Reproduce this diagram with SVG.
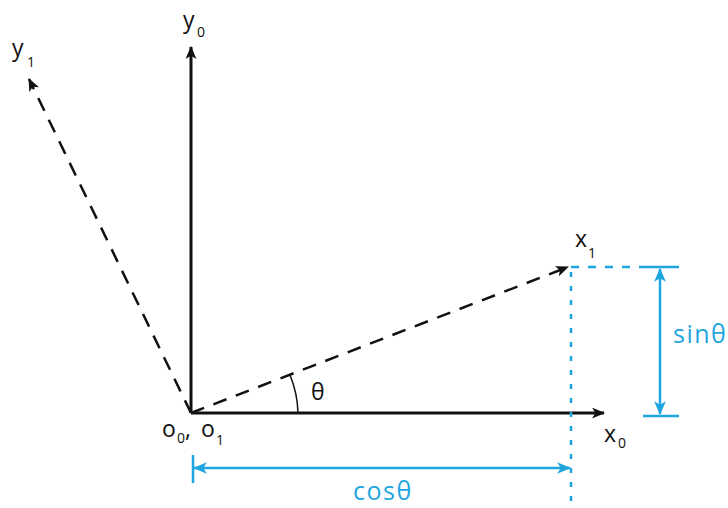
<svg xmlns="http://www.w3.org/2000/svg" width="728" height="508" viewBox="0 0 728 508">
<defs>
<marker id="ah" viewBox="0 0 12 10" refX="11" refY="5" markerWidth="13" markerHeight="11" markerUnits="userSpaceOnUse" orient="auto">
<path d="M0,0 L12,5 L0,10 L3,5 Z" fill="#111"/>
</marker>
<marker id="ab" viewBox="0 0 12 10" refX="11" refY="5" markerWidth="14" markerHeight="12" markerUnits="userSpaceOnUse" orient="auto-start-reverse">
<path d="M0,0 L12,5 L0,10 L3,5 Z" fill="#1fa6df"/>
</marker>
</defs>
<style>
.ax{stroke:#111;stroke-width:3;fill:none}
.da{stroke:#111;stroke-width:2.5;fill:none;stroke-dasharray:14 10}
.bl{stroke:#1fa6df;stroke-width:2.5;fill:none}
.t{font-family:"Open Sans","Liberation Sans",sans-serif;fill:#111;font-size:23px}
.s{font-family:"Open Sans","Liberation Sans",sans-serif;fill:#111;font-size:14px}
.tb{font-family:"Open Sans","Liberation Sans",sans-serif;fill:#1fa6df;font-size:25px;letter-spacing:1.5px}
</style>
<rect width="728" height="508" fill="#fff"/>
<g id="connectors">
<line id="y0-axis" class="ax" x1="191" y1="413" x2="191" y2="47" marker-end="url(#ah)"/>
<line id="x0-axis" class="ax" x1="191" y1="413" x2="604" y2="413" marker-end="url(#ah)"/>
<line id="y1-axis" class="da" x1="191" y1="413" x2="29" y2="79" marker-end="url(#ah)"/>
<line id="x1-axis" class="da" x1="191" y1="413" x2="568" y2="267" marker-end="url(#ah)"/>
<path id="angle-arc" d="M298,413 A107,107 0 0 0 290,375" stroke="#111" stroke-width="1.5" fill="none"/>
<line class="bl" x1="571" y1="272" x2="571" y2="508" stroke-dasharray="5 9"/>
<line class="bl" x1="571" y1="267" x2="643" y2="267" stroke-dasharray="8 9"/>
<line class="bl" x1="643" y1="267" x2="679" y2="267"/>
<line class="bl" x1="643" y1="416" x2="679" y2="416"/>
<line id="sin-arrow" class="bl" x1="660" y1="269" x2="660" y2="414" marker-start="url(#ab)" marker-end="url(#ab)"/>
<line class="bl" x1="193" y1="455" x2="193" y2="483"/>
<line id="cos-arrow" class="bl" x1="194" y1="468" x2="570" y2="468" marker-start="url(#ab)" marker-end="url(#ab)"/>
</g>
<g id="labels">
<g id="y0"><text class="t" x="183" y="28">y</text><text class="s" x="197" y="37">0</text></g>
<g id="y1"><text class="t" x="12" y="56">y</text><text class="s" x="27" y="67">1</text></g>
<g id="x1"><text class="t" x="575" y="247">x</text><text class="s" x="588" y="258">1</text></g>
<g id="x0"><text class="t" x="604" y="442">x</text><text class="s" x="618" y="448">0</text></g>
<g id="origin"><text class="t" x="162" y="437">o</text><text class="s" x="177" y="443">0</text><text class="t" x="185" y="437">,</text><text class="t" x="201" y="437">o</text><text class="s" x="216" y="445">1</text></g>
<g id="theta"><text class="t" x="311" y="400" font-size="25">θ</text></g>
<g id="sin"><text class="tb" x="673" y="343">sinθ</text></g>
<g id="cos"><text class="tb" x="353" y="500">cosθ</text></g>
</g>
</svg>
